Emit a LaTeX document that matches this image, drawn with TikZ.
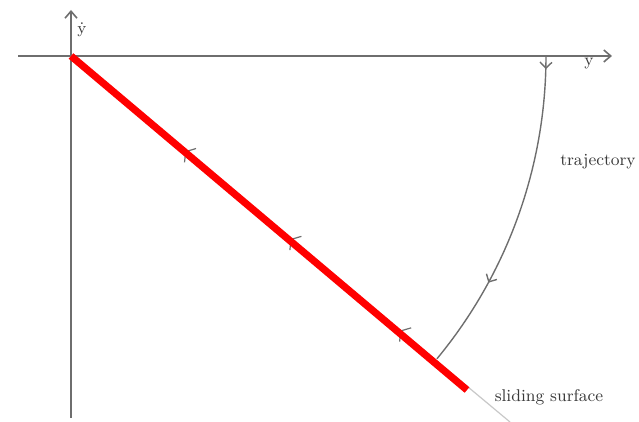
\documentclass[tikz,border=0pt]{standalone}
\usepackage{tikz}
\usetikzlibrary{arrows.meta,decorations.markings}
\definecolor{slideInk}{HTML}{3A3A3A}
\definecolor{slideAxis}{HTML}{6E6E6E}
\definecolor{slideRed}{HTML}{FF0000}
\definecolor{slideFaint}{HTML}{C8C8C8}
\tikzset{
  every picture/.style={font=\fontsize{8.5}{10}\selectfont, text=slideInk},
  slide axis/.style={draw=slideAxis, line width=0.8pt,
    -{Straight Barb[length=3.5pt,width=6pt]}},
  slide surface/.style={draw=slideRed, line width=3.6pt},
  slide guide/.style={draw=slideFaint, line width=0.6pt,
    postaction={decorate}, decoration={markings,
      mark=at position 0.26 with {\arrowreversed[slideAxis]{Straight Barb[length=3pt,width=9pt]}},
      mark=at position 0.50 with {\arrowreversed[slideAxis]{Straight Barb[length=3pt,width=9pt]}},
      mark=at position 0.75 with {\arrowreversed[slideAxis]{Straight Barb[length=3pt,width=9pt]}}}},
  slide path/.style={draw=slideAxis, line width=0.7pt,
    postaction={decorate}, decoration={markings,
      mark=at position 0.04 with {\arrow{Straight Barb[length=3pt,width=6pt]}},
      mark=at position 0.72 with {\arrow{Straight Barb[length=3pt,width=6pt]}}}}
}

\begin{document}
\begin{tikzpicture}[x=0.5pt,y=0.5pt]
  \useasboundingbox (0,0) rectangle (639,-422);
  % axes
  \coordinate (O) at (71,-56);
  \coordinate (ydotBot) at (71,-418);
  \coordinate (ydotTop) at (71,-10);
  \coordinate (yLeft) at (18,-56);
  \coordinate (yRight) at (612,-56);
  \draw[slide axis] (ydotBot) -- (ydotTop);
  \draw[slide axis] (yLeft) -- (yRight);
  \node (ydotLab) at (82,-30) {$\dot{\mathrm{y}}$};
  \node (yLab) at (589,-64) {y};
  % sliding surface
  \coordinate (Send) at (467,-390);
  \coordinate (Sfar) at (510,-422);
  \draw[slide guide] (O) -- (Sfar);
  \draw[slide surface] (O) -- (Send);
  \node (surfLab) at (549,-397) {sliding surface};
  % trajectory
  \coordinate (T0) at (546,-56);
  \draw[slide path] (T0) arc[start angle=0, end angle=-39.6, radius=475];
  \node (trajLab) at (598,-162) {trajectory};
\end{tikzpicture}
\end{document}
